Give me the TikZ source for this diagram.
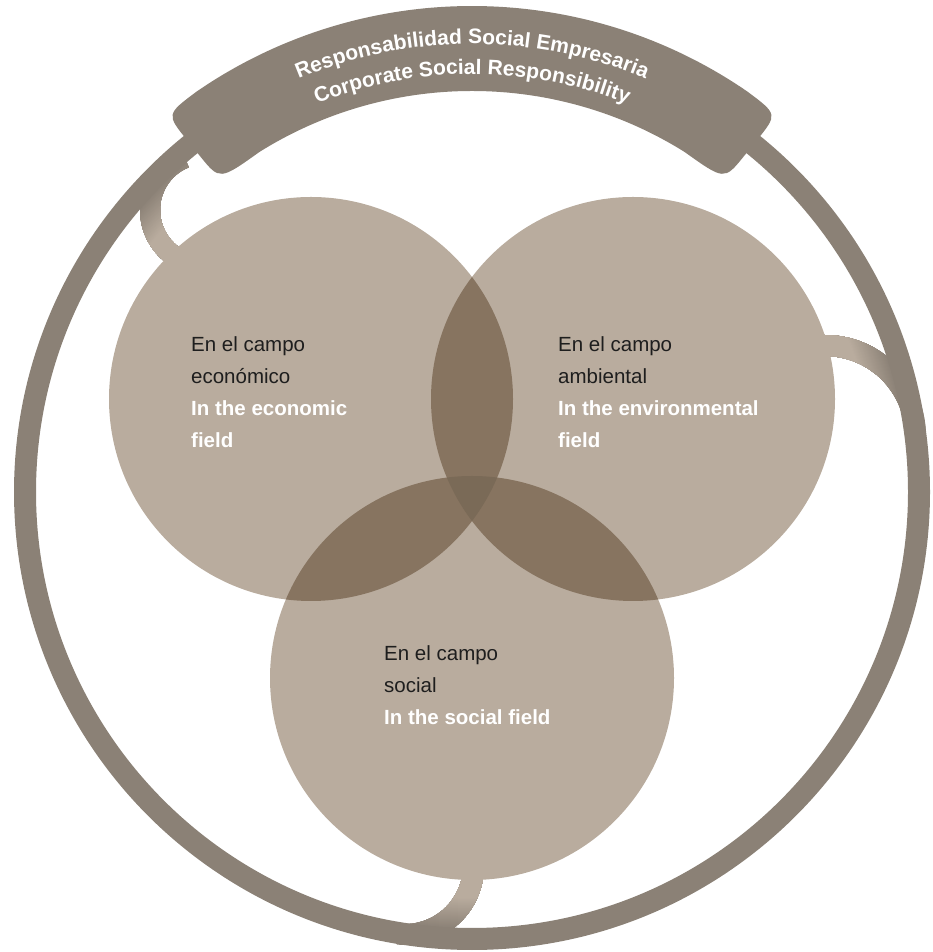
\documentclass[tikz,border=0pt]{standalone}
\usepackage{fontspec}
\setmainfont{Liberation Sans}
\usetikzlibrary{decorations.text,calc}
\definecolor{ringc}{HTML}{8B8176}
\definecolor{discc}{HTML}{B9AC9E}
\definecolor{pairc}{HTML}{877460}
\definecolor{triplec}{HTML}{7A6A57}
\definecolor{inkc}{HTML}{1E1E1E}
\begin{document}
\begin{tikzpicture}[x=1pt,y=1pt,
  fieldes/.style={anchor=base west, inner sep=0pt, font=\fontsize{20.5}{24}\selectfont, text=inkc},
  fielden/.style={anchor=base west, inner sep=0pt, font=\fontsize{20.5}{24}\selectfont\bfseries, text=white},
  disc/.style={fill=discc},
]
\useasboundingbox (0,0) rectangle (932,952);
% centres: outer ring, the three fields, the three links
\coordinate (O) at (472,460);
\coordinate (E) at (311,553);
\coordinate (A) at (633,553);
\coordinate (S) at (472,274);
\coordinate (CL) at (206,742);
\coordinate (CR) at (825,516);
\coordinate (CB) at (405,86);

% links between the ring and each field, shaded from ring colour to field colour
\begin{scope}
  \clip ($(CL)+(112:46)$) arc (112:240:46) -- ($(CL)+(240:66)$) arc (240:112:66) -- cycle
        ($(CR)+(95:80)$) arc (95:0:80) -- ($(CR)+(0:101)$) arc (0:95:101) -- cycle
        ($(CB)+(0:58)$) arc (0:-96:58) -- ($(CB)+(-96:79)$) arc (-96:0:79) -- cycle;
  \fill[ringc] (O) circle (470);
  \foreach \i in {0,...,32}{
    \pgfmathsetmacro\rr{438-\i}
    \pgfmathsetmacro\pp{100*\i/32}
    \fill[discc!\pp!ringc] (O) circle (\rr);
  }
\end{scope}

% outer ring
\draw[ringc, line width=22] (O) circle (447);

% banner on top of the ring, with rounded ends
\fill[ringc] ($(O)+(55.5:486)$) arc (55.5:124.5:486)
  .. controls ($(O)+(129:486)$) .. ($(O)+(129:452)$)
  -- ($(O)+(129:432)$)
  .. controls ($(O)+(129:401)$) .. ($(O)+(122:401)$)
  arc (122:58:401)
  .. controls ($(O)+(51:401)$) .. ($(O)+(51:432)$)
  -- ($(O)+(51:452)$)
  .. controls ($(O)+(51:486)$) .. ($(O)+(55.5:486)$) -- cycle;

\path[decorate, decoration={text along path, text align=center, text color=white,
  text={|\fontsize{21}{24}\selectfont\bfseries|Responsabilidad Social Empresaria}}]
  ($(O)+(130:448)$) arc (130:50:448);
\path[decorate, decoration={text along path, text align=center, text color=white,
  text={|\fontsize{21}{24}\selectfont\bfseries|Corporate Social Responsibility}}]
  ($(O)+(130:418)$) arc (130:50:418);

% the three fields
\fill[disc] (E) circle (202);
\fill[disc] (A) circle (202);
\fill[disc] (S) circle (202);
\begin{scope}
  \clip (E) circle (202);
  \fill[pairc] (A) circle (202);
  \fill[pairc] (S) circle (202);
\end{scope}
\begin{scope}
  \clip (A) circle (202);
  \fill[pairc] (S) circle (202);
\end{scope}
\begin{scope}
  \clip (E) circle (202);
  \clip (A) circle (202);
  \fill[triplec] (S) circle (202);
\end{scope}

% labels
\node[fieldes] (e1) at (191,600) {En el campo};
\node[fieldes] (e2) at (191,568) {económico};
\node[fielden] (e3) at (191,536) {In the economic};
\node[fielden] (e4) at (191,504) {field};

\node[fieldes] (a1) at (558,600) {En el campo};
\node[fieldes] (a2) at (558,568) {ambiental};
\node[fielden] (a3) at (558,536) {In the environmental};
\node[fielden] (a4) at (558,504) {field};

\node[fieldes] (s1) at (384,291) {En el campo};
\node[fieldes] (s2) at (384,259) {social};
\node[fielden] (s3) at (384,227) {In the social field};
\end{tikzpicture}
\end{document}
